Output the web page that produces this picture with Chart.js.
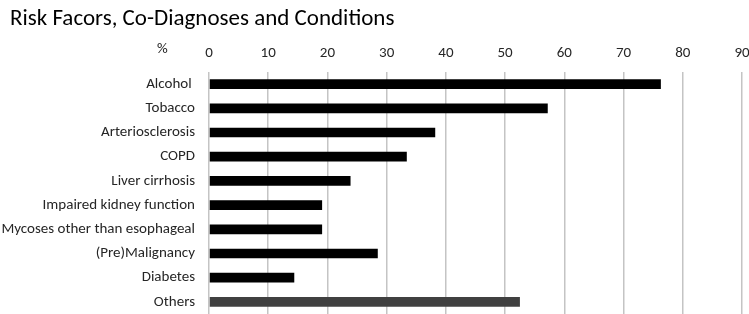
<!DOCTYPE html>
<html>
<head>
<meta charset="utf-8">
<script src="https://cdn.jsdelivr.net/npm/chart.js@4/dist/chart.umd.min.js"></script>
<style>
  html, body { margin: 0; padding: 0; background: #fff; }
  #wrap { width: 749px; height: 314px; }
</style>
</head>
<body>
<div id="wrap"><canvas id="chart-1"></canvas></div>
<script>
const categories = [
    'Alcohol ',
    'Tobacco',
    'Arteriosclerosis',
    'COPD',
    'Liver cirrhosis',
    'Impaired kidney function',
    'Mycoses other than esophageal',
    '(Pre)Malignancy',
    'Diabetes',
    'Others'
];
const percentValues = [76.3, 57.2, 38.2, 33.4, 23.9, 19.1, 19.1, 28.5, 14.4, 52.5];
const xTickLabels = [0, 10, 20, 30, 40, 50, 60, 70, 80, 90];
const chartTitle = 'Risk Facors, Co-Diagnoses and Conditions';
const axisUnit = '%';

const fontFamily = 'Carlito, Lato, "Open Sans", sans-serif';
const textColor = '#262626';

// title is drawn by hand so it can sit a bit in from the left edge,
// plus the "%" left of the top tick row
const headerText = {
    id: 'headerText',
    afterDraw(chart) {
        const c = chart.ctx;
        c.save();
        c.textAlign = 'left';
        c.textBaseline = 'middle';
        c.font = '23px ' + fontFamily;
        c.fillStyle = '#000000';
        c.fillText(chartTitle, 10, 19);
        c.font = '15px ' + fontFamily;
        c.fillStyle = textColor;
        c.fillText(axisUnit, 157, 49);
        c.restore();
    }
};

new Chart(document.getElementById('chart-1'), {
    type: 'bar',
    data: {
        labels: categories,
        datasets: [{
            label: axisUnit,
            data: percentValues,
            backgroundColor: ctx => ctx.index === categories.length - 1 ? '#404040' : '#000000',
            barPercentage: 0.8,
            categoryPercentage: 0.5
        }]
    },
    options: {
        indexAxis: 'y',
        responsive: true,
        maintainAspectRatio: false,
        animation: false,
        layout: { padding: { left: 0, right: 7, top: 32.6, bottom: 0 } },
        scales: {
            x: {
                position: 'top',
                min: 0,
                max: 90,
                afterBuildTicks: axis => {
                    axis.ticks = xTickLabels.map(v => ({ value: v }));
                },
                afterFit: axis => {
                    axis.height = 39.4;
                    axis.paddingLeft = 0;
                    axis.paddingRight = 0;
                },
                ticks: {
                    color: textColor,
                    font: { family: fontFamily, size: 15 },
                    padding: 10,
                    maxRotation: 0
                },
                grid: {
                    color: '#c4c4c4',
                    lineWidth: 1.5,
                    drawTicks: false
                },
                border: { display: false }
            },
            y: {
                afterFit: axis => {
                    axis.width = 209;
                    axis.paddingTop = 0;
                    axis.paddingBottom = 0;
                },
                ticks: {
                    color: textColor,
                    font: { family: fontFamily, size: 15 },
                    padding: 6,
                    autoSkip: false
                },
                grid: { display: false },
                border: { display: false }
            }
        },
        plugins: {
            legend: { display: false },
            tooltip: { enabled: false },
            title: { display: false }
        }
    },
    plugins: [headerText]
});
</script>
</body>
</html>
